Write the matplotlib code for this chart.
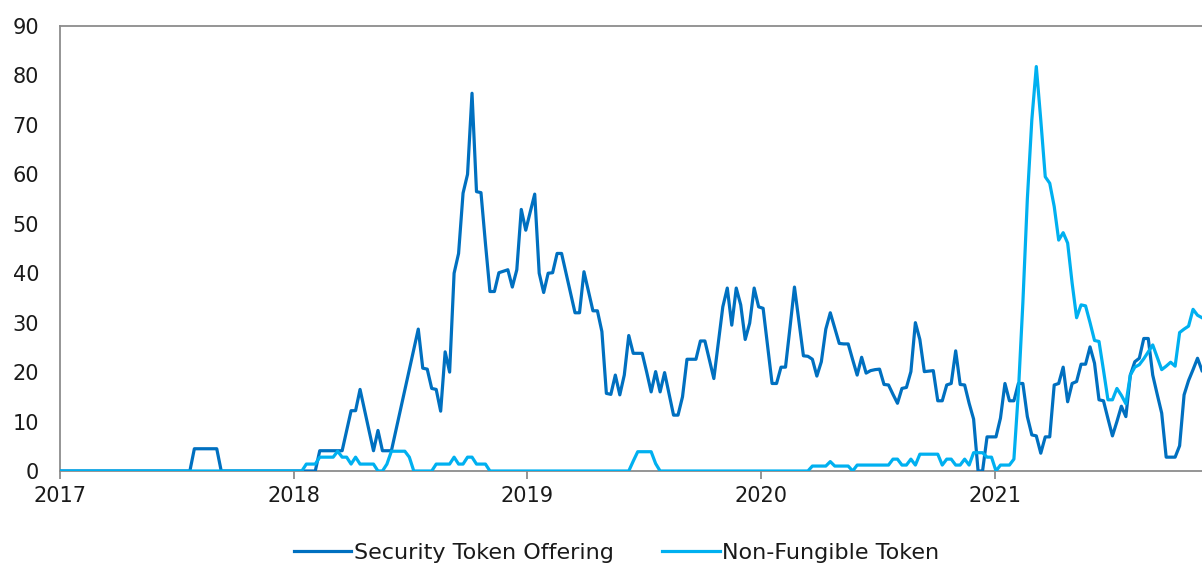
import matplotlib
matplotlib.use("Agg")
import matplotlib.pyplot as plt
import matplotlib.dates as mdates
import pandas as pd
import numpy as np

# Weekly observations starting 2017-01-01
start_date = "2017-01-01"
n_weeks = 256

sto_values = [
    0, 0, 0, 0, 0, 0, 0, 0, 0, 0,
    0, 0, 0, 0, 0, 0, 0, 0, 0, 0,
    0, 0, 0, 0, 0, 0, 0, 0, 0, 0,
    4.5, 4.5, 4.5, 4.5, 4.5, 4.5, 0, 0, 0, 0,
    0, 0, 0, 0, 0, 0, 0, 0, 0, 0,
    0, 0, 0, 0, 0, 0, 0, 0, 4.1, 4.1,
    4.1, 4.1, 4.1, 4.1, 8.2, 12.2, 12.2, 16.5, 12.3, 8.2,
    4.1, 8.2, 4.1, 4.1, 4.1, 8.2, 12.3, 16.4, 20.5, 24.6,
    28.7, 20.8, 20.6, 16.7, 16.5, 12.1, 24.1, 20, 40, 44,
    56.2, 60, 76.4, 56.5, 56.3, 46, 36.3, 36.3, 40.1, 40.4,
    40.7, 37.2, 40.7, 52.9, 48.7, 52.4, 56, 40, 36.1, 40,
    40.1, 44, 44, 40, 36, 32, 32, 40.3, 36.3, 32.4,
    32.4, 28.2, 15.7, 15.5, 19.4, 15.4, 19.4, 27.4, 23.8, 23.8,
    23.8, 20, 16, 20.1, 16, 19.9, 15.6, 11.3, 11.3, 15,
    22.6, 22.6, 22.6, 26.3, 26.3, 22.5, 18.7, 26, 33.2, 37,
    29.5, 37, 33.6, 26.6, 29.9, 37, 33.2, 32.9, 25.3, 17.7,
    17.7, 21, 21, 29, 37.2, 30.2, 23.3, 23.2, 22.6, 19.2,
    22.1, 28.7, 32, 28.9, 25.8, 25.7, 25.7, 22.5, 19.4, 23,
    19.8, 20.3, 20.5, 20.6, 17.5, 17.4, 15.5, 13.7, 16.7, 16.9,
    20.1, 30, 26.6, 20.1, 20.2, 20.3, 14.2, 14.2, 17.4, 17.7,
    24.3, 17.5, 17.4, 13.7, 10.5, 0, 0, 6.9, 6.9, 6.9,
    10.7, 17.7, 14.2, 14.2, 17.7, 17.7, 11, 7.3, 7.1, 3.6,
    6.9, 6.9, 17.4, 17.7, 21, 14, 17.7, 18.1, 21.6, 21.6,
    25.1, 21.8, 14.4, 14.2, 10.6, 7.1, 10, 13.1, 11, 19.4,
    22.1, 22.8, 26.8, 26.8, 19.4, 15.5, 11.7, 2.8, 2.8, 2.8,
    5.1, 15.4, 18.3, 20.5, 22.8, 20.3,
]

nft_values = [
    0, 0, 0, 0, 0, 0, 0, 0, 0, 0,
    0, 0, 0, 0, 0, 0, 0, 0, 0, 0,
    0, 0, 0, 0, 0, 0, 0, 0, 0, 0,
    0, 0, 0, 0, 0, 0, 0, 0, 0, 0,
    0, 0, 0, 0, 0, 0, 0, 0, 0, 0,
    0, 0, 0, 0, 0, 1.4, 1.4, 1.4, 2.8, 2.8,
    2.8, 2.8, 4, 2.8, 2.8, 1.4, 2.8, 1.4, 1.4, 1.4,
    1.4, 0, 0, 1.4, 4, 4, 4, 4, 2.8, 0,
    0, 0, 0, 0, 1.4, 1.4, 1.4, 1.4, 2.8, 1.4,
    1.4, 2.8, 2.8, 1.4, 1.4, 1.4, 0, 0, 0, 0,
    0, 0, 0, 0, 0, 0, 0, 0, 0, 0,
    0, 0, 0, 0, 0, 0, 0, 0, 0, 0,
    0, 0, 0, 0, 0, 0, 0, 0, 2, 3.9,
    3.9, 3.9, 3.9, 1.5, 0, 0, 0, 0, 0, 0,
    0, 0, 0, 0, 0, 0, 0, 0, 0, 0,
    0, 0, 0, 0, 0, 0, 0, 0, 0, 0,
    0, 0, 0, 0, 0, 0, 0, 0, 1, 1,
    1, 1, 1.9, 1, 1, 1, 1, 0, 1.2, 1.2,
    1.2, 1.2, 1.2, 1.2, 1.2, 1.2, 2.4, 2.4, 1.2, 1.2,
    2.4, 1.2, 3.4, 3.4, 3.4, 3.4, 3.4, 1.2, 2.4, 2.4,
    1.2, 1.2, 2.4, 1.2, 3.7, 3.7, 3.7, 2.8, 2.8, 0,
    1.2, 1.2, 1.2, 2.4, 16, 34, 55, 71, 81.8, 71,
    59.5, 58.2, 53.5, 46.7, 48.2, 46.1, 38, 31, 33.6, 33.4,
    30, 26.4, 26.2, 20.4, 14.4, 14.4, 16.7, 15.3, 13.6, 19.4,
    21, 21.5, 22.7, 24.1, 25.5, 23, 20.5, 21.2, 22, 21.2,
    28, 28.7, 29.3, 32.7, 31.5, 31,
]

series_labels = ["Security Token Offering", "Non-Fungible Token"]
year_ticks = ["2017", "2018", "2019", "2020", "2021"]
y_ticks = [0, 10, 20, 30, 40, 50, 60, 70, 80, 90]

dates = pd.date_range(start_date, periods=n_weeks, freq="7D")

plt.rcParams["font.family"] = ["DejaVu Sans"]

fig = plt.figure(figsize=(12.02, 5.67), dpi=100)
ax = fig.add_axes([60 / 1202, 1 - 471 / 567, 1 - 60 / 1202, (471 - 26) / 567])

dark = "#0070C0"
light = "#00B0F0"
ax.plot(dates, sto_values, color=dark, lw=2.3, label=series_labels[0],
        solid_joinstyle="round", zorder=3)
ax.plot(dates, nft_values, color=light, lw=2.3, label=series_labels[1],
        solid_joinstyle="round", zorder=4)

ax.set_xlim(dates[0], dates[-1])
ax.set_ylim(0, 90)
ax.set_yticks(y_ticks)
ax.set_yticklabels([str(v) for v in y_ticks])
ax.set_xticks([pd.Timestamp(y + "-01-01") for y in year_ticks])
ax.set_xticklabels(year_ticks)

spine_col = "#8c8c8c"
for s in ["left", "bottom", "top"]:
    ax.spines[s].set_color(spine_col)
    ax.spines[s].set_linewidth(1.3)
ax.spines["right"].set_visible(False)

ax.tick_params(axis="y", length=0, pad=15, labelsize=15, colors="#1a1a1a")
ax.tick_params(axis="x", length=6, width=1.3, color=spine_col, pad=5,
               labelsize=15, labelcolor="#1a1a1a")

leg = fig.legend(loc="center", bbox_to_anchor=(0.513, 0.025), ncol=2,
                 frameon=False, fontsize=16, handlelength=2.6,
                 handletextpad=0.1, columnspacing=2.2)
for t in leg.get_texts():
    t.set_color("#1a1a1a")

fig.savefig("out.png", dpi=100)
